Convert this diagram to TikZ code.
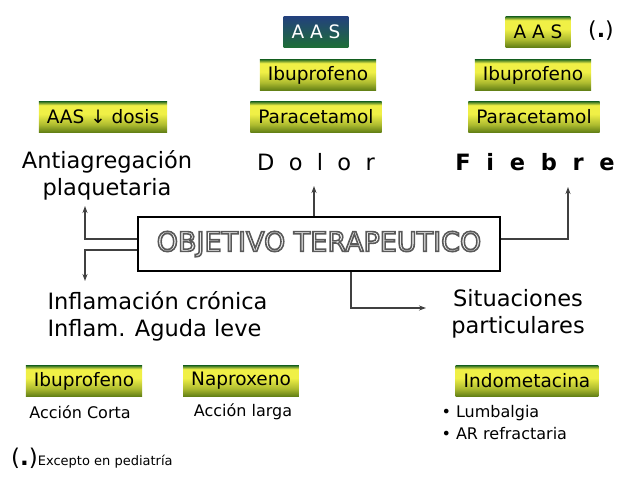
\documentclass[tikz,border=0pt]{standalone}
\usepackage{fontspec}
\setmainfont{DejaVu Sans}
\usetikzlibrary{arrows.meta}
\definecolor{barTop}{RGB}{45,110,35}
\definecolor{barMid}{RGB}{240,240,70}
\definecolor{barLow}{RGB}{95,125,20}
\definecolor{aasTop}{RGB}{35,65,125}
\definecolor{aasLow}{RGB}{30,110,55}
\pgfdeclareverticalshading{greenbar}{100bp}{color(0bp)=(barLow); color(25bp)=(barLow); color(38bp)=(barLow!45!barMid); color(55bp)=(barMid); color(69bp)=(barMid); color(75bp)=(barTop); color(100bp)=(barTop)}
% white letters with a grey outline
\newcommand{\objtext}[1]{\textcolor{white}{\special{pdf:literal direct 2 Tr 1.6 w 0.35 0.35 0.35 RG}#1\special{pdf:literal direct 0 Tr}}}

\begin{document}
\begin{tikzpicture}[x=1pt, y=-1pt,
  gbar/.style={shade, shading=greenbar, minimum height=31pt, inner xsep=8pt, inner ysep=0pt, font=\fontsize{18.5}{21}\selectfont},
  abar/.style={shade, top color=aasTop, bottom color=aasLow, minimum height=31pt, inner xsep=8pt, text=white, font=\fontsize{18.5}{21}\selectfont},
  big/.style={font=\fontsize{22.5}{27}\selectfont},
  small/.style={font=\fontsize{16}{22}\selectfont},
  conn/.style={black!75, line width=1.1pt, -{Stealth[length=7pt, width=5pt]}}]
  \useasboundingbox (0,0) rectangle (638,479);
  % top boxes
  \node[abar] (aasmid) at (316,32) {A A S};
  \node[gbar] (aasright) at (538,32) {A A S};
  \node[font=\fontsize{22}{26}\selectfont] (dotright) at (601,31) {(\textbf{.})};
  \foreach \x/\y/\nm/\lab in {103/117/aasdosis/{AAS ↓ dosis}, 318/75/ibumid/Ibuprofeno, 316/117/paramid/Paracetamol, 533/75/iburight/Ibuprofeno, 534/117/pararight/Paracetamol}
    \node[gbar] (\nm) at (\x,\y) {\lab};
  % targets
  \node[big, align=center] (antiag) at (107,175) {Antiagregación\\plaquetaria};
  \node[big] (dolor) at (316,162) {D\ \ o\ \ l\ \ o\ \ r};
  \node[big] (fiebre) at (535,162) {\bfseries F\ \ i\ \ e\ \ b\ \ r\ \ e};
  % central box
  \node[draw, line width=1.3pt, minimum width=362pt, minimum height=54pt, font=\fontsize{27}{30}\selectfont] (obj) at (319,244) {\objtext{OBJETIVO TERAPEUTICO}};
  \coordinate (antiup) at (85,206);
  \coordinate (inflamdown) at (85,281);
  \coordinate (dolorup) at (314,186);
  \coordinate (fiebreup) at (568,187);
  \coordinate (situright) at (426,308);
  \draw[conn] ([yshift=5pt]obj.west) -| (antiup);
  \draw[conn] ([yshift=-6pt]obj.west) -| (inflamdown);
  \draw[conn] (obj.north -| dolorup) -- (dolorup);
  \draw[conn] ([yshift=5pt]obj.east) -| (fiebreup);
  \draw[conn] ([xshift=32pt]obj.south) |- (situright);
  % bottom
  \node[big, align=left, anchor=west] (inflam) at (44,316) {Inflamación crónica\\Inflam. Aguda leve};
  \node[big, align=center] (situ) at (518,314) {Situaciones\\particulares};
  \foreach \x/\nm/\lab in {84/ibubot/Ibuprofeno, 241/naprox/Naproxeno, 527/indo/Indometacina}
    \node[gbar] (\nm) at (\x,381) {\lab};
  \node[small] (corta) at (80,412) {Acción Corta};
  \node[small] (larga) at (243,412) {Acción larga};
  \node[small, align=left, anchor=west] (lumb) at (438,423) {• Lumbalgia\\• AR refractaria};
  \node[anchor=west, inner sep=0pt] (excepto) at (11,458) {{\fontsize{23}{24}\selectfont(\textbf{.})}{\fontsize{13}{15}\selectfont Excepto en pediatría}};
\end{tikzpicture}
\end{document}
